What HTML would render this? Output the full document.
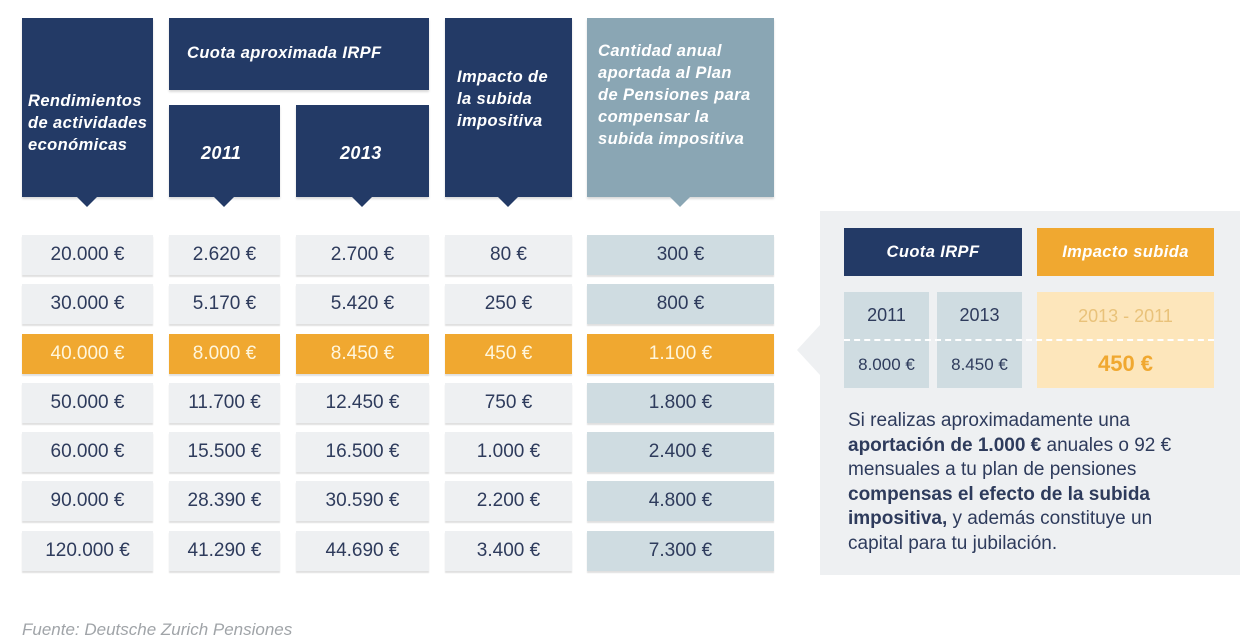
<!DOCTYPE html>
<html><head><meta charset="utf-8"><style>
body{margin:0;width:1252px;height:643px;background:#fff;position:relative;overflow:hidden;font-family:"Liberation Sans",sans-serif}
.a{position:absolute;box-sizing:border-box}
.h{background:#233a66;color:#fff;font-weight:bold;font-style:italic;font-size:16.5px;line-height:22px;letter-spacing:0.4px;box-shadow:0 2px 2px rgba(0,0,0,.15);white-space:nowrap}
.h5{background:#8aa6b4}
.tri{position:absolute;width:0;height:0;border-left:10px solid transparent;border-right:10px solid transparent;border-top:10px solid #233a66}
.c{position:absolute;height:40px;line-height:40px;text-align:center;font-size:19px;color:#2e3b5c;background:#eef0f2;box-shadow:0 2px 1px rgba(0,0,0,.12)}
.c.l{background:#cfdce1}
.c.o{background:#f0a830;color:#fff6dc}
</style></head><body>
<div class="a h" style="left:22px;top:18px;width:131px;height:179px;padding:72px 0 0 6px">Rendimientos<br>de actividades<br>económicas</div>
<div class="a h" style="left:169px;top:18px;width:260px;height:72px;padding:24px 0 0 18px">Cuota aproximada IRPF</div>
<div class="a h" style="left:169px;top:105px;width:111px;height:92px;padding:37px 0 0 32px;font-size:18px">2011</div>
<div class="a h" style="left:296px;top:105px;width:133px;height:92px;padding:37px 0 0 44px;font-size:18px">2013</div>
<div class="a h" style="left:445px;top:18px;width:127px;height:179px;padding:48px 0 0 12px">Impacto de<br>la subida<br>impositiva</div>
<div class="a h h5" style="left:587px;top:18px;width:187px;height:179px;padding:22px 0 0 11px">Cantidad anual<br>aportada al Plan<br>de Pensiones para<br>compensar la<br>subida impositiva</div>
<div class="tri" style="left:77px;top:197px"></div>
<div class="tri" style="left:214px;top:197px"></div>
<div class="tri" style="left:352px;top:197px"></div>
<div class="tri" style="left:498px;top:197px"></div>
<div class="tri" style="left:670px;top:197px;border-top-color:#8aa6b4"></div>

<div class="c" style="left:22px;top:235px;width:131px">20.000 €</div><div class="c" style="left:169px;top:235px;width:111px">2.620 €</div><div class="c" style="left:296px;top:235px;width:133px">2.700 €</div><div class="c" style="left:445px;top:235px;width:127px">80 €</div><div class="c l" style="left:587px;top:235px;width:187px">300 €</div>
<div class="c" style="left:22px;top:284px;width:131px">30.000 €</div><div class="c" style="left:169px;top:284px;width:111px">5.170 €</div><div class="c" style="left:296px;top:284px;width:133px">5.420 €</div><div class="c" style="left:445px;top:284px;width:127px">250 €</div><div class="c l" style="left:587px;top:284px;width:187px">800 €</div>
<div class="c o" style="left:22px;top:334px;width:131px">40.000 €</div><div class="c o" style="left:169px;top:334px;width:111px">8.000 €</div><div class="c o" style="left:296px;top:334px;width:133px">8.450 €</div><div class="c o" style="left:445px;top:334px;width:127px">450 €</div><div class="c o" style="left:587px;top:334px;width:187px">1.100 €</div>
<div class="c" style="left:22px;top:383px;width:131px">50.000 €</div><div class="c" style="left:169px;top:383px;width:111px">11.700 €</div><div class="c" style="left:296px;top:383px;width:133px">12.450 €</div><div class="c" style="left:445px;top:383px;width:127px">750 €</div><div class="c l" style="left:587px;top:383px;width:187px">1.800 €</div>
<div class="c" style="left:22px;top:432px;width:131px">60.000 €</div><div class="c" style="left:169px;top:432px;width:111px">15.500 €</div><div class="c" style="left:296px;top:432px;width:133px">16.500 €</div><div class="c" style="left:445px;top:432px;width:127px">1.000 €</div><div class="c l" style="left:587px;top:432px;width:187px">2.400 €</div>
<div class="c" style="left:22px;top:481px;width:131px">90.000 €</div><div class="c" style="left:169px;top:481px;width:111px">28.390 €</div><div class="c" style="left:296px;top:481px;width:133px">30.590 €</div><div class="c" style="left:445px;top:481px;width:127px">2.200 €</div><div class="c l" style="left:587px;top:481px;width:187px">4.800 €</div>
<div class="c" style="left:22px;top:531px;width:131px">120.000 €</div><div class="c" style="left:169px;top:531px;width:111px">41.290 €</div><div class="c" style="left:296px;top:531px;width:133px">44.690 €</div><div class="c" style="left:445px;top:531px;width:127px">3.400 €</div><div class="c l" style="left:587px;top:531px;width:187px">7.300 €</div>

<div class="a" style="left:820px;top:211px;width:420px;height:364px;background:#eef0f2"></div>
<div class="a" style="left:797px;top:325px;width:0;height:0;border-top:25px solid transparent;border-bottom:25px solid transparent;border-right:23px solid #eef0f2"></div>
<div class="a h" style="left:844px;top:228px;width:178px;height:48px;line-height:48px;text-align:center;box-shadow:none">Cuota IRPF</div>
<div class="a h" style="left:1037px;top:228px;width:177px;height:48px;line-height:48px;text-align:center;background:#f0a830;box-shadow:none">Impacto subida</div>
<div class="a" style="left:844px;top:292px;width:85px;height:96px;background:#cfdce1"></div>
<div class="a" style="left:937px;top:292px;width:85px;height:96px;background:#cfdce1"></div>
<div class="a" style="left:1037px;top:292px;width:177px;height:96px;background:#fde6bb"></div>
<div class="a" style="left:844px;top:339px;width:370px;border-top:2px dashed #fff"></div>
<div class="a" style="left:844px;top:305px;width:85px;text-align:center;font-size:18px;color:#2e3b5c">2011</div>
<div class="a" style="left:937px;top:305px;width:85px;text-align:center;font-size:18px;color:#2e3b5c">2013</div>
<div class="a" style="left:844px;top:355px;width:85px;text-align:center;font-size:17px;color:#2e3b5c">8.000 €</div>
<div class="a" style="left:937px;top:355px;width:85px;text-align:center;font-size:17px;color:#2e3b5c">8.450 €</div>
<div class="a" style="left:1037px;top:306px;width:177px;text-align:center;font-size:18px;color:#e9c27a">2013 - 2011</div>
<div class="a" style="left:1037px;top:351px;width:177px;text-align:center;font-size:22px;font-weight:bold;color:#f0a830">450 €</div>
<div class="a" style="left:848px;top:409px;width:390px;font-size:19px;line-height:24.6px;color:#2e3b5c;white-space:nowrap">Si realizas aproximadamente una<br><b>aportación de 1.000 €</b> anuales o 92 €<br>mensuales a tu plan de pensiones<br><b>compensas el efecto de la subida<br>impositiva,</b> y además constituye un<br>capital para tu jubilación.</div>
<div class="a" style="left:22px;top:620px;font-size:17px;font-style:italic;color:#a0a4a8">Fuente: Deutsche Zurich Pensiones</div>
</body></html>
